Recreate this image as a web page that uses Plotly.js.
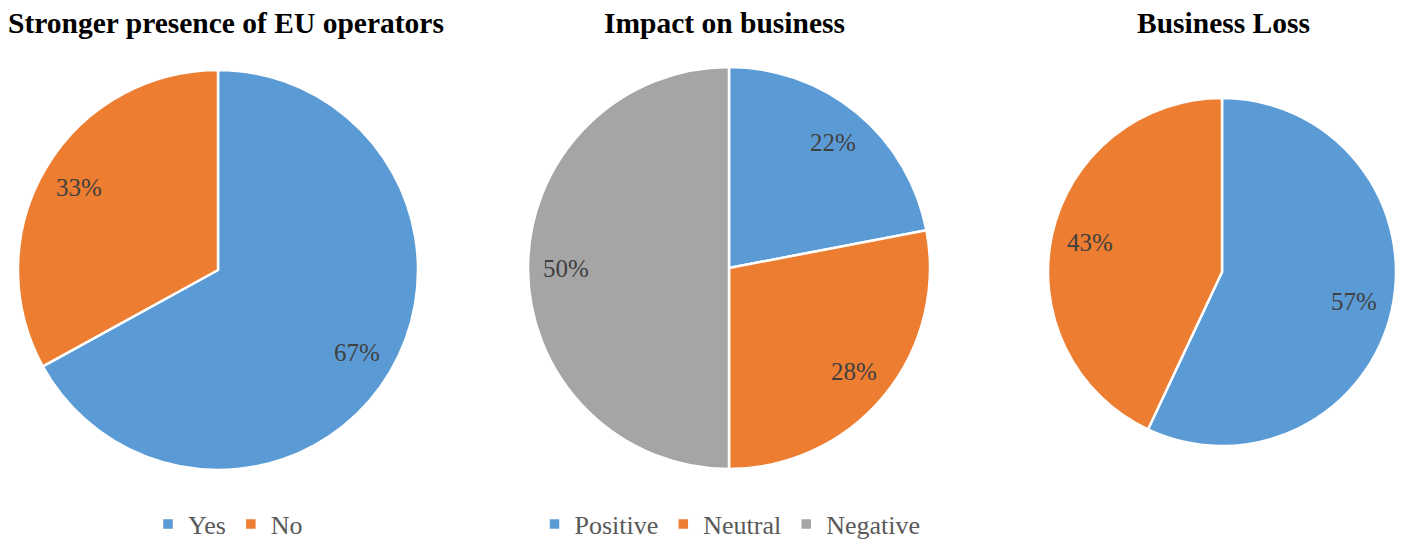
<!DOCTYPE html>
<html><head><meta charset="utf-8">
<script src="https://cdn.plot.ly/plotly-3.0.1.min.js"></script>
<style>body{margin:0;background:#fff}#c{width:1402px;height:541px}</style>
</head><body><div id="c"></div>
<script>
const titles = ["Stronger presence of EU operators", "Impact on business", "Business Loss"];
const labels1 = ["Yes", "No"];
const values1 = [67, 33];
const labels2 = ["Positive", "Neutral", "Negative"];
const values2 = [22, 28, 50];
const labels3 = ["Yes", "No"];
const values3 = [57, 43];
const colors = ["#5B9BD5", "#ED7D31", "#A5A5A5"];

const W = 1402, H = 541;
const SERIF = 'Liberation Serif';
function geom(cx, cy, r) {
  return {x: [(cx - r) / W, (cx + r) / W], y: [(H - cy - r) / H, (H - cy + r) / H]};
}
const pies = [
  {labels: labels1, values: values1, cx: 218, cy: 270, r: 200, lf: 0.81, leg: 'legend'},
  {labels: labels2, values: values2, cx: 729, cy: 268, r: 201, lf: 0.81, leg: 'legend2'},
  {labels: labels3, values: values3, cx: 1222, cy: 272, r: 174, lf: 0.78, leg: 'legend3'}
];
const data = pies.map(p => ({
  type: 'pie', labels: p.labels, values: p.values, domain: geom(p.cx, p.cy, p.r), legend: p.leg,
  sort: false, direction: 'clockwise', rotation: 0,
  marker: {colors: colors.slice(0, p.labels.length), line: {color: '#fff', width: 2.5}},
  textinfo: 'none', hoverinfo: 'label+percent'
}));
// data labels placed along each slice's bisector
const labelAnns = [];
pies.forEach(p => {
  const tot = p.values.reduce((a, b) => a + b, 0);
  let cum = 0;
  p.values.forEach(v => {
    const mid = (cum + v / 2) / tot * 2 * Math.PI;
    cum += v;
    const d = p.r * p.lf;
    labelAnns.push({
      text: Math.round(v / tot * 100) + '%',
      x: (p.cx + d * Math.sin(mid)) / W, y: (H - p.cy + d * Math.cos(mid)) / H,
      xref: 'paper', yref: 'paper', xanchor: 'center', yanchor: 'middle', showarrow: false,
      font: {family: SERIF, size: 25, color: '#404040'}
    });
  });
});
function leg(xc) {
  return {orientation: 'h', x: xc / W, xanchor: 'center',
    y: (H - 524) / H, yanchor: 'middle',
    font: {family: SERIF, size: 26, color: '#595959'}, bgcolor: 'rgba(0,0,0,0)', itemwidth: 30};
}
const centers = [226, 724, 1223];
const layout = {
  width: W, height: H, margin: {l: 0, r: 0, t: 0, b: 0, autoexpand: false},
  font: {family: SERIF, size: 24, color: '#595959'},
  paper_bgcolor: '#fff', showlegend: true,
  legend: leg(228), legend2: leg(730), legend3: leg(1234),
  annotations: titles.map((t, i) => ({
    text: '<b>' + t + '</b>', x: centers[i] / W, y: (H - 23) / H, xref: 'paper', yref: 'paper',
    xanchor: 'center', yanchor: 'middle', showarrow: false,
    font: {family: SERIF, size: 29.5, color: '#000'}
  })).concat(labelAnns)
};
Plotly.newPlot('c', data, layout, {displayModeBar: false});
</script></body></html>
